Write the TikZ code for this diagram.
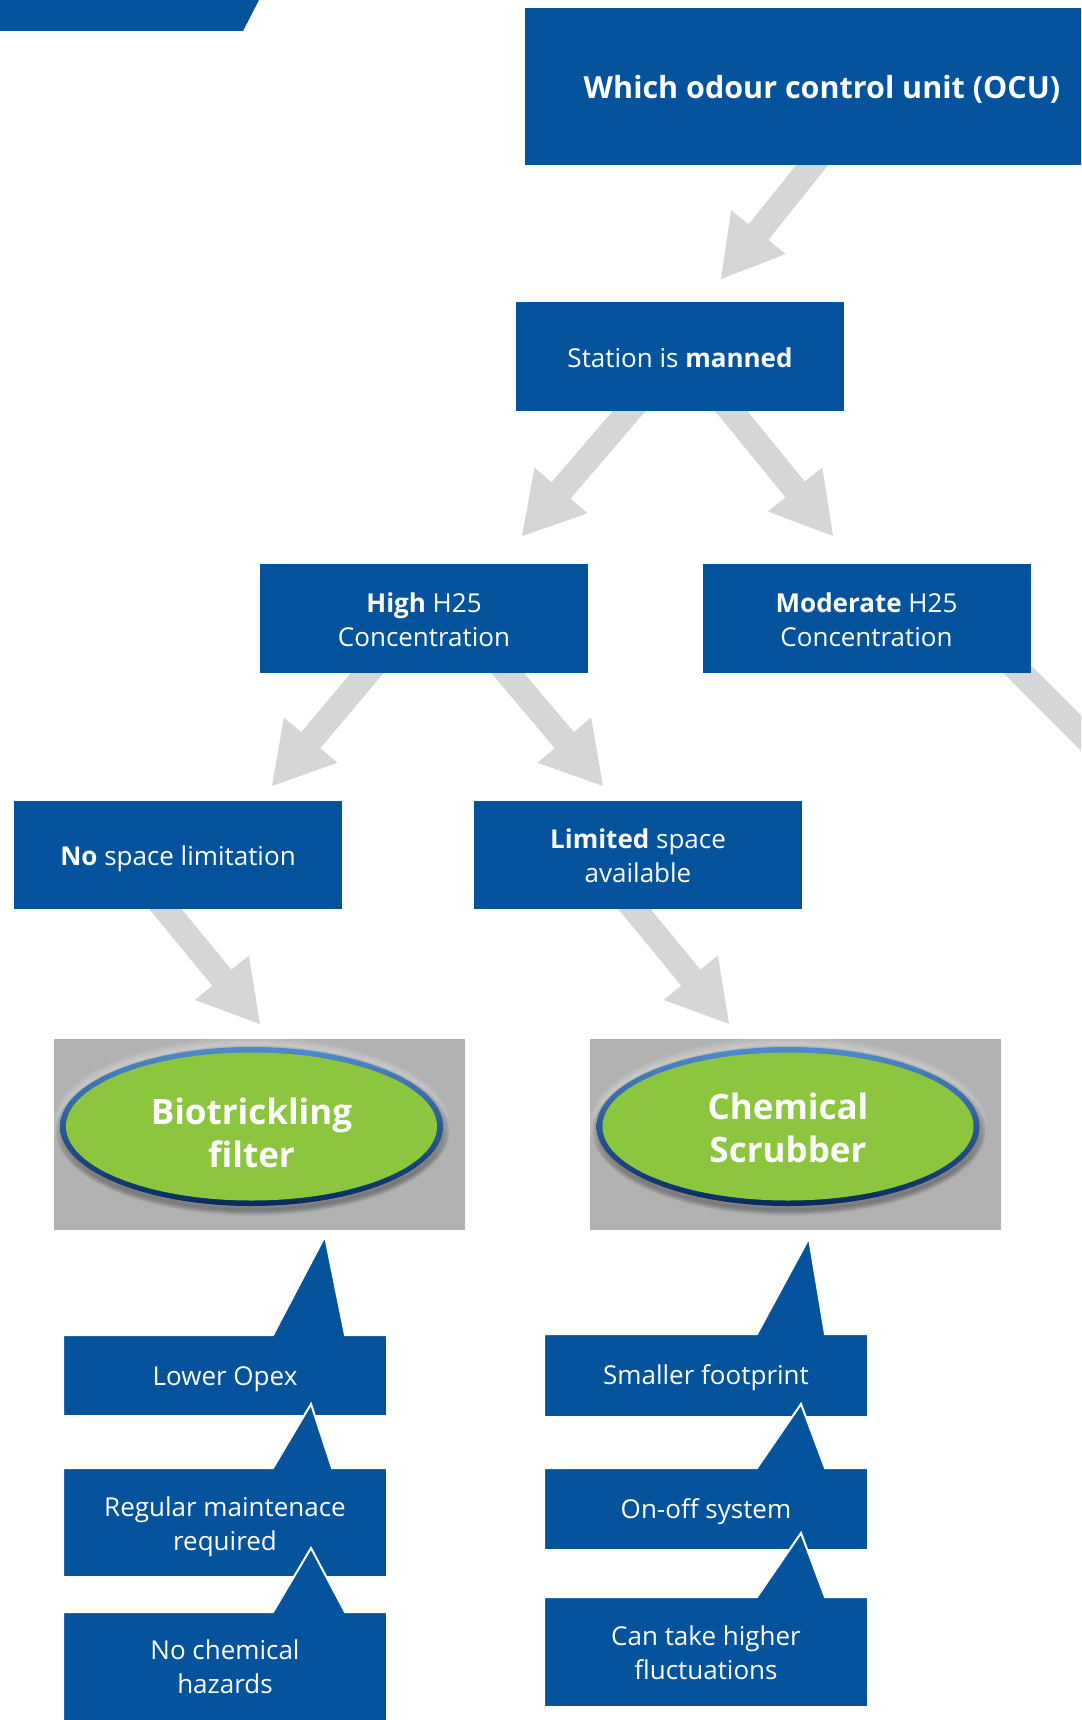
\documentclass[tikz,border=0pt]{standalone}
\usepackage{fontspec}
\setmainfont{Open Sans}
\usetikzlibrary{calc,shapes.geometric}
\definecolor{boxblue}{HTML}{04539C}
\definecolor{arrowgray}{HTML}{D5D6D8}
\definecolor{panelgray}{HTML}{B2B1B2}
\definecolor{limegreen}{HTML}{8CC63F}
\definecolor{ringtop}{HTML}{4F8BCB}
\definecolor{ringbot}{HTML}{062B5E}
% fat grey arrow from #1 to tip #2
\newcommand{\fatarrow}[2]{%
  \coordinate (fah) at ($(#2)!60pt!(#1)$);
  \fill[arrowgray] ($(#1)!12.5pt!90:(#2)$) -- ($(fah)!12.5pt!90:(#2)$) -- ($(fah)!35pt!90:(#2)$)
    -- (#2) -- ($(fah)!35pt!-90:(#2)$) -- ($(fah)!12.5pt!-90:(#2)$) -- ($(#1)!12.5pt!-90:(#2)$) -- cycle;
}
% callout: x1 y1 x2 y2 baseleft baseright tipx tipy
\newcommand{\calloutshape}[8]{%
  \filldraw[fill=boxblue, draw=white, line width=2pt, line join=miter]
    (#1,#2) -- (#5,#2) -- (#7,#8) -- (#6,#2) -- (#3,#2) -- (#3,#4) -- (#1,#4) -- cycle;
}
\newcommand{\ovalshadow}[2]{%
  \foreach \k in {1,...,7} {
    \fill[white, opacity=0.05] (#1,#2-3) ellipse [x radius={(191.5+\k)*1pt}, y radius={(79.5+\k)*1pt}];
    \fill[black, opacity=0.06] (#1+1,#2+4) ellipse [x radius={(190+\k)*1pt}, y radius={(78+\k)*1pt}];
  }
}
\begin{document}
\begin{tikzpicture}[x=1pt,y=-1pt,
  bluebox/.style={rectangle, fill=boxblue, inner sep=0pt, minimum width=328pt, minimum height=109pt},
  panel/.style={rectangle, fill=panelgray, inner sep=0pt, minimum width=411pt, minimum height=191pt},
  ring/.style={ellipse, inner sep=0pt, minimum width=383pt, minimum height=159pt, top color=ringtop, bottom color=ringbot},
  oval/.style={ellipse, inner sep=0pt, minimum width=371pt, minimum height=148pt, fill=limegreen},
  lbl/.style={text=white, align=center, inner sep=0pt, anchor=base, font=\fontsize{26pt}{34pt}\selectfont},
  titlelbl/.style={lbl, font=\fontsize{30.5pt}{36pt}\selectfont\bfseries},
  ovallbl/.style={lbl, font=\fontsize{35pt}{43pt}\selectfont\bfseries}]
\useasboundingbox (0,0) rectangle (1081,1720);
\clip (0,0) rectangle (1081,1720);
\fill[white] (0,0) rectangle (1081,1720);

% banner top left
\fill[boxblue] (0,0) -- (259,0) -- (243,31) -- (0,31) -- cycle;

% arrow coordinates
\coordinate (s1) at (825,149);  \coordinate (t1) at (721,279);
\coordinate (s2) at (642,396);  \coordinate (t2) at (522,536);
\coordinate (s3) at (719,396);  \coordinate (t3) at (833,536);
\coordinate (s4) at (380,658);  \coordinate (t4) at (272,786);
\coordinate (s5) at (495,658);  \coordinate (t5) at (603,786);
\coordinate (s6) at (1007,659); \coordinate (t6) at (1201,853);
\coordinate (s7) at (153,894);  \coordinate (t7) at (260,1024);
\coordinate (s8) at (622,894);  \coordinate (t8) at (729,1024);
\fatarrow{s1}{t1}
\fatarrow{s2}{t2}
\fatarrow{s3}{t3}
\fatarrow{s4}{t4}
\fatarrow{s5}{t5}
\fatarrow{s6}{t6}
\fatarrow{s7}{t7}
\fatarrow{s8}{t8}

% boxes
\node[bluebox, minimum width=595pt, minimum height=157pt] (title) at (822,86.5) {};
\node[titlelbl] (titletxt) at (822,99) {Which odour control unit (OCU)};

\node[bluebox] (station) at (680,356.5) {};
\node[lbl] (stationtxt) at (680,367) {Station is \textbf{manned}};

\node[bluebox] (high) at (424,618.5) {};
\node[lbl] (hightxt) at (424,646) {\textbf{High} H25\\Concentration};

\node[bluebox] (moderate) at (866.5,618.5) {};
\node[lbl] (moderatetxt) at (866.5,646) {\textbf{Moderate} H25\\Concentration};

\node[bluebox, minimum height=108pt] (nospace) at (178,855) {};
\node[lbl] (nospacetxt) at (178,865) {\textbf{No} space limitation};

\node[bluebox, minimum height=108pt] (limited) at (638,855) {};
\node[lbl] (limitedtxt) at (638,882) {\textbf{Limited} space\\available};

% panels with ovals
\node[panel] (biopanel) at (259.5,1134.5) {};
\node[panel] (chempanel) at (795.5,1134.5) {};
\begin{scope}
  \clip (54,1039) rectangle (465,1230);
  \ovalshadow{251.5}{1126.5}
\end{scope}
\begin{scope}
  \clip (590,1039) rectangle (1001,1230);
  \ovalshadow{788}{1126.5}
\end{scope}
\node[ring] (bioring) at (251.5,1126.5) {};
\node[oval] (biooval) at (bioring.center) {};
\node[ovallbl] (biotxt) at (251.5,1167) {Biotrickling\\filter};
\node[ring] (chemring) at (788,1126.5) {};
\node[oval] (chemoval) at (chemring.center) {};
\node[ovallbl] (chemtxt) at (788,1162) {Chemical\\Scrubber};

% callouts, biotrickling side
\calloutshape{63}{1335}{387}{1416}{273}{345}{325}{1236}
\node[lbl] (opex) at (225,1385) {Lower Opex};
\calloutshape{63}{1468}{387}{1577}{273}{332}{311}{1404}
\node[lbl] (maint) at (225,1550) {Regular maintenace\\required};
\calloutshape{63}{1612}{387}{1740}{273}{345}{311}{1548}
\node[lbl] (hazards) at (225,1693) {No chemical\\hazards};

% callouts, chemical scrubber side
\calloutshape{544}{1334}{868}{1417}{757}{825}{809}{1238}
\node[lbl] (footprint) at (706,1384) {Smaller footprint};
\calloutshape{544}{1468}{868}{1550}{757}{825}{801}{1404}
\node[lbl] (onoff) at (706,1518) {On-off system};
\calloutshape{544}{1597}{868}{1707}{757}{825}{801}{1533}
\node[lbl] (fluct) at (706,1679) {Can take higher\\fluctuations};
\end{tikzpicture}
\end{document}
